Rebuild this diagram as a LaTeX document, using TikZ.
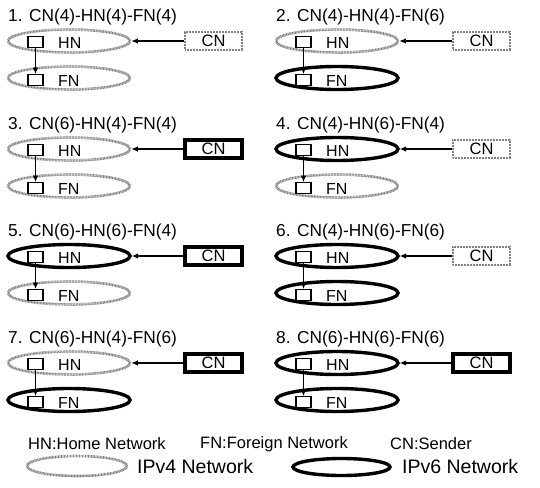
\documentclass[tikz,border=0pt]{standalone}
\usepackage{fontspec}
\setmainfont{Liberation Sans}
\usetikzlibrary{arrows.meta,shapes.geometric}
\tikzset{
  v4/.style={draw=black!50, line width=2.6pt, dash pattern=on 0.9pt off 0.6pt},
  v6/.style={draw=black, line width=3.4pt},
  net/.style={ellipse, minimum width=122pt, minimum height=23pt, inner sep=0pt},
  cnbox/.style={rectangle, minimum width=57pt, minimum height=18pt, inner sep=0pt, font=\fontsize{16.5}{16.5}\selectfont},
  sq/.style={draw, line width=1.2pt, minimum width=15pt, minimum height=10.5pt, inner sep=0pt},
  lbl/.style={anchor=west, font=\fontsize{16}{16}\selectfont, inner sep=0pt},
  ttl/.style={anchor=west, font=\fontsize{17.3}{17.3}\selectfont, inner sep=0pt},
  legtxt/.style={anchor=west, font=\fontsize{16.5}{16.5}\selectfont, inner sep=0pt},
  legbig/.style={anchor=west, font=\fontsize{19.5}{19.5}\selectfont, inner sep=0pt},
  conn/.style={line width=1.2pt, -{Latex[length=6.5pt,width=5.5pt]}},
}
\newcommand\mypanel[6]{%
  \node[ttl] (t#1) at (#2+8,#3) {#1. CN(#4)-HN(#5)-FN(#6)};
  \node[net, v#5] (hn#1) at (#2+69,#3+24) {};
  \node[net, v#6] (fn#1) at (#2+69,#3+61) {};
  \node[sq] (hs#1) at (#2+35.5,#3+25) {};
  \node[sq] (fs#1) at (#2+35.5,#3+63) {};
  \node[lbl] (hl#1) at (#2+58,#3+25.5) {HN};
  \node[lbl] (fl#1) at (#2+58,#3+63.5) {FN};
  \node[cnbox, v#4] (cn#1) at (#2+213.5,#3+24) {CN};
  \draw[conn] (cn#1.west) -- (hn#1.east);
  \draw[conn] (hs#1.south) -- (fs#1.north);
}
\begin{document}
\begin{tikzpicture}[x=1pt,y=-1pt]
  \useasboundingbox (0,0) rectangle (540,487);
  \mypanel{1}{0}{17}{4}{4}{4}
  \mypanel{2}{268}{17}{4}{4}{6}
  \mypanel{3}{0}{125}{6}{4}{4}
  \mypanel{4}{268}{125}{4}{6}{4}
  \mypanel{5}{0}{232}{6}{6}{4}
  \mypanel{6}{268}{232}{4}{6}{6}
  \mypanel{7}{0}{339}{6}{4}{6}
  \mypanel{8}{268}{339}{6}{6}{6}
  \node[legtxt] (lhn) at (28,444) {HN:Home Network};
  \node[legtxt] (lfn) at (200,444) {FN:Foreign Network};
  \node[legtxt] (lcn) at (390,444) {CN:Sender};
  \node[net, v4, minimum width=100pt, minimum height=20pt] (l4) at (77,466) {};
  \node[legbig] (l4t) at (137,467) {IPv4 Network};
  \node[net, v6, minimum width=97pt, minimum height=17pt] (l6) at (341.5,467) {};
  \node[legbig] (l6t) at (402,467) {IPv6 Network};
\end{tikzpicture}
\end{document}
